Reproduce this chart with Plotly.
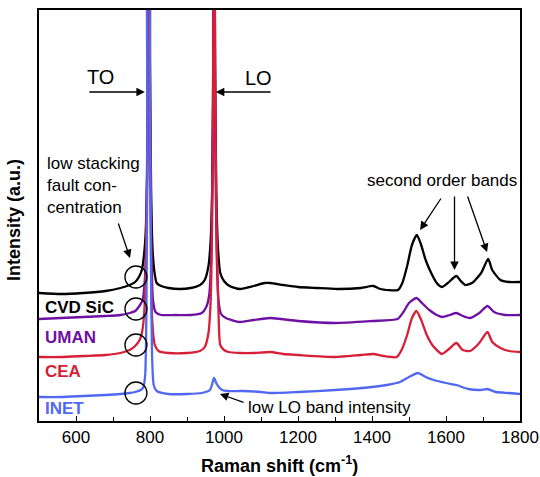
import plotly.graph_objects as go

# ---- data (Raman shift in cm^-1, intensity in arbitrary units) ----
cvd_x = [500, 560, 620, 680, 720, 745, 760, 770, 778, 783, 788, 792, 795, 797, 800, 803, 807, 812, 818, 830,
         850, 880, 910, 935, 948, 958, 964, 968, 971, 973, 976, 979, 984, 990, 1000, 1015, 1043, 1080, 1110,
         1125, 1160, 1200, 1250, 1306, 1370, 1404, 1422, 1470, 1482, 1495, 1508, 1521, 1532, 1545, 1560, 1575,
         1589, 1605, 1628, 1640, 1652, 1670, 1695, 1714, 1725, 1747, 1770, 1800]
cvd_y = [128, 127, 128, 130, 133, 136, 139, 144, 151, 163, 186, 241, 361, 620, 361, 231, 171, 149, 138, 135,
         133, 132, 133, 136, 141, 155, 181, 231, 361, 620, 361, 231, 171, 148, 140, 135, 132, 135, 138,
         138, 136, 134, 133, 132, 133, 135, 132, 131, 138, 155, 176, 186, 177, 161, 148, 138,
         134, 138, 145, 140, 136, 138, 148, 162, 151, 141, 139, 139]

uman_x = [500, 560, 620, 680, 720, 745, 760, 773, 780, 786, 791, 794, 797, 800, 803, 808, 815, 830, 870, 910,
          940, 952, 960, 966, 970, 973, 976, 980, 985, 992, 1005, 1043, 1080, 1125, 1200, 1300, 1400, 1469,
          1485, 1500, 1520, 1535, 1555, 1575, 1589, 1610, 1628, 1645, 1665, 1690, 1712, 1730, 1760, 1800]
uman_y = [102, 103, 104, 105, 106, 108, 110, 116, 121, 141, 201, 321, 620, 321, 191, 121, 109, 106, 106, 106,
          108, 114, 126, 171, 301, 620, 301, 171, 121, 107, 103, 99, 101, 103, 100, 98, 100, 102,
          109, 118, 123, 118, 111, 106, 104, 106, 108, 105, 103, 108, 115, 109, 106, 106]

cea_x = [500, 560, 620, 680, 720, 745, 760, 772, 778, 784, 789, 793, 797, 800, 803, 806, 813, 823, 850, 900,
         935, 948, 958, 964, 968, 971, 973, 976, 980, 985, 990, 1000, 1012, 1043, 1080, 1125, 1160, 1200,
         1300, 1370, 1404, 1430, 1467, 1480, 1495, 1508, 1520, 1533, 1548, 1565, 1589, 1608, 1628, 1645,
         1665, 1690, 1712, 1725, 1747, 1770, 1800]
cea_y = [64, 64, 65, 66, 68, 71, 75, 81, 88, 106, 161, 301, 620, 301, 161, 101, 76, 70, 68, 68,
         70, 74, 88, 121, 201, 341, 620, 341, 191, 111, 76, 71, 69, 68, 68, 69, 67, 66,
         64, 66, 67, 65, 64, 71, 86, 103, 110, 101, 86, 75, 67, 72, 78, 71,
         70, 78, 89, 79, 73, 70, 69]

inet_x = [500, 560, 620, 680, 720, 745, 760, 775, 782, 787, 790, 793, 795, 797, 800, 803, 806, 810, 818, 850,
          900, 940, 962, 968, 973, 979, 986, 995, 1010, 1050, 1100, 1125, 1200, 1300, 1400, 1440, 1476,
          1500, 1524, 1545, 1567, 1600, 1628, 1660, 1693, 1712, 1735, 1770, 1800]
inet_y = [24, 24, 25, 26, 27, 28, 29, 31, 34, 46, 101, 271, 620, 620, 321, 141, 61, 36, 30, 27,
          27, 28, 31, 37, 43, 38, 34, 31, 30, 30, 29, 28, 29, 31, 34, 36, 39,
          44, 48, 44, 41, 38, 36, 32, 31, 32, 29, 28, 27]

x_ticks = [600, 800, 1000, 1200, 1400, 1600, 1800]

series = [
    ("CVD SiC", cvd_x, cvd_y, "#000000"),
    ("UMAN", uman_x, uman_y, "#6e11a3"),
    ("CEA", cea_x, cea_y, "#d81f38"),
    ("INET", inet_x, inet_y, "#5068f2"),
]

fig = go.Figure()
for name, xs, ys, col in series:
    fig.add_trace(go.Scatter(x=xs, y=ys, mode="lines", name=name,
                             line=dict(color=col, width=2.3, shape="spline", smoothing=0.6),
                             showlegend=False))

FONT = "Liberation Sans, Arial, sans-serif"

ann = []
# sample labels
label_y = [114, 84, 50, 13]
for (name, _, _, col), ly in zip(series, label_y):
    ann.append(dict(x=511, y=ly, text=f"<b>{name}</b>", showarrow=False, xanchor="left",
                    yanchor="middle", font=dict(size=17, color=col, family=FONT)))

# TO / LO
ann.append(dict(x=665, y=344, text="TO", showarrow=False, font=dict(size=20, color="black", family=FONT)))
ann.append(dict(x=1092, y=343, text="LO", showarrow=False, font=dict(size=20, color="black", family=FONT)))

def arrow(tx, ty, ax, ay):
    return dict(x=tx, y=ty, ax=ax, ay=ay, xref="x", yref="y", axref="x", ayref="y", text="",
                showarrow=True, arrowhead=2, arrowsize=1.3, arrowwidth=1.3, arrowcolor="black", standoff=0)

ann.append(arrow(786, 329, 632, 329))
ann.append(arrow(978, 329, 1130, 329))

ann.append(dict(x=516, y=236, text="low stacking<br>fault con-<br>centration", showarrow=False,
                xanchor="left", yanchor="middle", align="left",
                font=dict(size=17, color="black", family=FONT)))
ann.append(arrow(746, 163, 713, 199))

ann.append(dict(x=1060, y=14, text="low LO band intensity", showarrow=False, xanchor="left",
                yanchor="middle", font=dict(size=17, color="black", family=FONT)))
ann.append(arrow(989, 27, 1057, 18))

ann.append(dict(x=1589, y=241, text="second order bands", showarrow=False,
                font=dict(size=17, color="black", family=FONT)))
ann.append(arrow(1530, 191, 1589, 224))
ann.append(arrow(1623, 151, 1623, 226))
ann.append(arrow(1711, 169, 1657, 226))

# axis titles
ann.append(dict(x=0.499, y=-0.105, xref="paper", yref="paper", text="<b>Raman shift (cm<sup>-1</sup>)</b>",
                showarrow=False, yanchor="middle", font=dict(size=18, color="black", family=FONT)))
ann.append(dict(x=-0.052, y=0.489, xref="paper", yref="paper", text="<b>Intensity (a.u.)</b>",
                showarrow=False, textangle=-90, xanchor="center", yanchor="middle",
                font=dict(size=18, color="black", family=FONT)))

shapes = []
for cy in [144, 112, 76, 28]:
    shapes.append(dict(type="circle", xref="x", yref="y", xsizemode="pixel", ysizemode="pixel",
                       xanchor=762, yanchor=cy, x0=-11, x1=11, y0=-11, y1=11,
                       line=dict(color="black", width=1.3)))

fig.update_layout(
    width=540, height=477,
    margin=dict(l=39, r=20, t=10, b=56, autoexpand=False),
    paper_bgcolor="white", plot_bgcolor="white",
    annotations=ann, shapes=shapes,
    font=dict(family=FONT, color="black"),
    xaxis=dict(range=[500, 1800], tickvals=x_ticks, ticks="inside", ticklen=5, tickwidth=1.3,
               tickcolor="black", showline=True, linecolor="black", linewidth=1.5, mirror=True,
               showgrid=False, zeroline=False, automargin=False,
               tickfont=dict(size=17, family=FONT, color="black"),
               minor=dict(dtick=100, tick0=500, ticks="inside", ticklen=4, tickwidth=1.3, tickcolor="black",
                          showgrid=False)),
    yaxis=dict(range=[0, 411], showticklabels=False, ticks="", showline=True, linecolor="black",
               linewidth=1.5, mirror=True, showgrid=False, zeroline=False, automargin=False),
)

fig.write_html("out.html", config={"displayModeBar": False},
               post_script="document.body.style.margin='0';document.body.style.overflow='hidden';")
